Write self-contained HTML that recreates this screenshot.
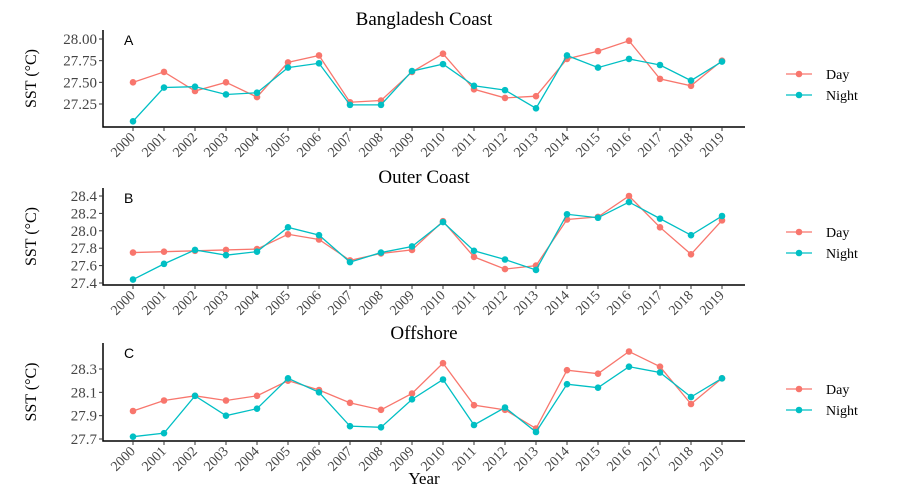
<!DOCTYPE html>
<html><head><meta charset="utf-8"><style>
body{margin:0;background:#fff}
svg{display:block;font-family:"Liberation Serif",serif}
</style></head><body>
<svg id="c" width="900" height="500"></svg>
<script>
const years=["2000","2001","2002","2003","2004","2005","2006","2007","2008","2009","2010","2011","2012","2013","2014","2015","2016","2017","2018","2019"];
const aDay=[27.50,27.62,27.40,27.50,27.33,27.73,27.81,27.27,27.29,27.62,27.83,27.42,27.32,27.34,27.77,27.86,27.98,27.54,27.46,27.75];
const aNight=[27.05,27.44,27.45,27.36,27.38,27.67,27.72,27.24,27.24,27.63,27.71,27.46,27.41,27.20,27.81,27.67,27.77,27.70,27.52,27.74];
const bDay=[27.75,27.76,27.77,27.78,27.79,27.96,27.90,27.66,27.74,27.78,28.11,27.70,27.56,27.60,28.13,28.16,28.40,28.04,27.73,28.12];
const bNight=[27.44,27.62,27.78,27.72,27.76,28.04,27.95,27.64,27.75,27.82,28.10,27.77,27.67,27.55,28.19,28.15,28.33,28.14,27.95,28.17];
const cDay=[27.94,28.03,28.07,28.03,28.07,28.20,28.12,28.01,27.95,28.09,28.35,27.99,27.95,27.79,28.29,28.26,28.45,28.32,28.00,28.22];
const cNight=[27.72,27.75,28.07,27.90,27.96,28.22,28.10,27.81,27.80,28.04,28.21,27.82,27.97,27.76,28.17,28.14,28.32,28.27,28.06,28.22];
const aTicks=["27.25","27.50","27.75","28.00"];
const bTicks=["27.4","27.6","27.8","28.0","28.2","28.4"];
const cTicks=["27.7","27.9","28.1","28.3"];
const panels=[
 {name:"bangladesh-coast",title:"Bangladesh Coast",letter:"A",day:aDay,night:aNight,ticks:aTicks,v1:28.00,y1:39,v2:27.25,y2:104,top:30,bot:127,titleY:25,legY:74},
 {name:"outer-coast",title:"Outer Coast",letter:"B",day:bDay,night:bNight,ticks:bTicks,v1:28.4,y1:196,v2:27.4,y2:283,top:188,bot:285,titleY:183,legY:232},
 {name:"offshore",title:"Offshore",letter:"C",day:cDay,night:cNight,ticks:cTicks,v1:28.3,y1:369,v2:27.7,y2:439,top:343,bot:441,titleY:339,legY:389}
];
const NS="http://www.w3.org/2000/svg";
const svg=document.getElementById("c");
function mk(t,a,p,txt){const e=document.createElementNS(NS,t);for(const k in a)e.setAttribute(k,a[k]);if(txt!==undefined)e.textContent=txt;(p||svg).appendChild(e);return e;}
const L=103,R=745;
const xOf=i=>133+i*(722-133)/(years.length-1);
panels.forEach(p=>{
 const yOf=v=>p.y1+(v-p.v1)*(p.y2-p.y1)/(p.v2-p.v1);
 const g=mk("g",{});
 
 
 const t=mk("text",{x:424,y:p.titleY,"text-anchor":"middle","font-size":19},g,p.title);
 
 
 const ax=mk("path",{d:`M${L} ${p.top}V${p.bot}H${R}`,stroke:"#000","stroke-width":1.5,fill:"none"},g);
 
 
 p.ticks.forEach(tk=>{const y=yOf(+tk);
  mk("line",{x1:L-4,x2:L,y1:y,y2:y,stroke:"#333"},g);
  const tl=mk("text",{x:L-6,y:y+5,"text-anchor":"end","font-size":15,fill:"#444"},g,tk);
  
  
 });
 years.forEach((yr,i)=>{const x=xOf(i);
  mk("line",{x1:x,x2:x,y1:p.bot,y2:p.bot+4,stroke:"#333"},g);
  const tl=mk("text",{x:x+3,y:p.bot+11,"text-anchor":"end","font-size":14,fill:"#444",transform:`rotate(-45 ${x+3} ${p.bot+11})`},g,yr);
  
  
 });
 const yl=mk("text",{x:0,y:0,"text-anchor":"middle","font-size":16,transform:`translate(36 ${(p.top+p.bot)/2}) rotate(-90)`},g,"SST (°C)");
 
 
 const lt=mk("text",{x:124,y:p.top+15,"font-size":14,"font-family":"Liberation Sans, sans-serif"},g,p.letter);
 
 
 [[p.day,"#F8766D","day"],[p.night,"#00BFC4","night"]].forEach(([arr,col,nm])=>{
  const ln=mk("polyline",{points:arr.map((v,i)=>xOf(i)+","+yOf(v)).join(" "),fill:"none",stroke:col,"stroke-width":1.3},g);
  
  
  arr.forEach((v,i)=>{const c=mk("circle",{cx:xOf(i),cy:yOf(v),r:3.3,fill:col},g);
   
   });
 });
 [["Day","#F8766D",0],["Night","#00BFC4",21]].forEach(([lab,col,dy])=>{
  const lg=mk("g",{},g);
  
  
  const y=p.legY+dy;
  mk("line",{x1:786,x2:812,y1:y,y2:y,stroke:col,"stroke-width":1.3},lg);
  mk("circle",{cx:799,cy:y,r:3.3,fill:col},lg);
  mk("text",{x:826,y:y+5,"font-size":14},lg,lab);
 });
});
const xt=mk("text",{x:424,y:484,"text-anchor":"middle","font-size":17},svg,"Year");


</script>
</body></html>
